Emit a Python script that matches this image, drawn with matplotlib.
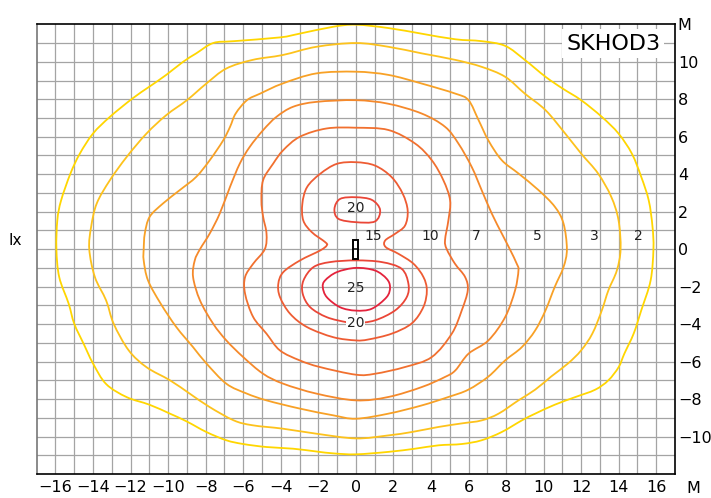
import numpy as np
import matplotlib
matplotlib.use("Agg")
import matplotlib.pyplot as plt
from matplotlib.path import Path
from matplotlib.patches import PathPatch, Rectangle

# isolux lines (metres), each closed curve listed
# anticlockwise starting from the top point on the x=0 axis
lvl2_x = [0, -1.2, -3, -4.05, -6.5, -7.6, -8.5, -9.2, -10.1, -11.0, -11.9, -13.1, -14.0, -14.7, -15.2, -15.7, -15.9, -15.95,
          -15.8, -15.3, -15.0, -14.5, -14.0, -13.3, -12.2, -11.0, -9.9, -9.0, -7.96, -6.9, -6.0, -4.76, -3.34, -2.1, -1.2, 0,
          1.73, 3.15, 4.4, 5.64, 6.7, 7.77, 8.84, 9.55, 10.6, 11.7, 12.75, 13.45, 14.0, 14.3, 14.8, 15.2, 15.7, 15.85,
          15.8, 15.6, 15.2, 14.7, 13.99, 13.1, 12.0, 11.0, 10.1, 9.0, 7.95, 6.7, 5.3, 3.5, 1.73]
lvl2_y = [11.98, 11.87, 11.5, 11.3, 11.1, 11.0, 10.45, 10.0, 9.3, 8.67, 8.04, 7.06, 6.17, 5.1, 4.04, 2.6, 1.55, 0,
          -1.49, -2.9, -3.98, -5.05, -6.1, -7.2, -7.9, -8.3, -8.78, -9.2, -9.76, -10.2, -10.4, -10.56, -10.65, -10.8, -10.9, -10.95,
          -10.82, -10.65, -10.47, -10.4, -10.2, -9.76, -9.14, -8.78, -8.3, -7.89, -7.5, -7.0, -6.29, -5.58, -4.5, -3.27, -1.67, 0,
          1.2, 2.6, 3.86, 5.1, 6.17, 7.06, 7.95, 8.58, 9.2, 10.1, 10.85, 11.1, 11.2, 11.5, 11.8]

lvl3_x = [0, -2.1, -3.9, -5.5, -6.9, -7.96, -9.0, -10.1, -11.15, -12.2, -13.1, -13.8, -14.1, -14.2,
          -13.9, -13.3, -12.9, -12.1, -11.15, -9.9, -8.85, -7.8, -6.5, -5.5, -3.9, -2.1, 0,
          1.73, 2.98, 4.4, 5.64, 6.7, 7.6, 8.66, 9.55, 10.4, 11.3, 12.0, 12.6, 13.1, 13.45, 13.9, 14.1,
          13.99, 13.6, 12.9, 12.0, 11.15, 10.1, 9.0, 7.95, 6.7, 5.3, 3.5, 1.73]
lvl3_y = [11.0, 10.8, 10.36, 10.1, 9.64, 8.84, 7.95, 7.15, 6.17, 4.93, 3.68, 2.44, 1.19, 0,
          -1.49, -2.74, -3.98, -5.4, -6.3, -7.0, -7.71, -8.42, -9.14, -9.4, -9.58, -9.85, -10.1,
          -9.94, -9.76, -9.49, -9.3, -9.14, -8.78, -8.07, -7.5, -6.8, -6.1, -5.4, -4.5, -3.27, -2.2, -1.14, 0,
          1.55, 2.8, 4.04, 5.1, 6.17, 7.42, 8.3, 9.2, 9.73, 10.1, 10.45, 10.8]

lvl5_x = [0, -2.1, -3.9, -5.1, -5.8, -6.4, -6.7, -7.07, -7.78, -8.5, -9.38, -10.27, -10.98, -11.24, -11.3,
          -11.3, -11.07, -10.4, -9.56, -8.67, -7.96, -6.9, -5.83, -4.76, -2.98, -1.2, 0,
          1.73, 3.51, 4.93, 5.99, 7.06, 7.95, 8.84, 9.55, 10.1, 10.6, 11.06, 11.24,
          11.06, 10.6, 9.73, 8.66, 7.77, 7.06, 6.53, 6.0, 5.3, 3.5, 1.73]
lvl5_y = [9.47, 9.38, 8.84, 8.3, 7.95, 7.24, 6.53, 5.8, 4.75, 3.86, 3.15, 2.44, 1.73, 0.84, 0,
          -0.6, -1.67, -2.9, -4.16, -5.23, -6.1, -7.18, -7.7, -8.07, -8.51, -8.87, -9.05,
          -8.78, -8.34, -7.89, -7.5, -6.8, -5.94, -5.23, -4.34, -3.27, -2.0, -0.96, 0,
          1.37, 2.26, 3.15, 4.04, 4.75, 5.8, 6.9, 7.95, 8.3, 8.84, 9.3]

lvl7_x = [0, -2.1, -3.34, -4.23, -4.94, -5.65, -6.18, -6.7, -7.25, -7.78, -8.3,
          -8.58, -8.67, -8.3, -7.6, -6.9, -6.0, -4.94, -3.87, -2.1, 0,
          1.73, 3.51, 4.75, 5.3, 6.0, 7.06, 7.95, 8.48, 8.66, 8.57, 8.2,
          7.77, 7.24, 6.7, 6.17, 5.46, 4.75, 3.5, 1.73]
lvl7_y = [7.95, 7.86, 7.6, 7.06, 6.35, 5.46, 4.57, 3.33, 1.9, 0.84, 0,
          -0.6, -1.49, -2.74, -3.98, -4.87, -5.76, -6.65, -7.18, -7.71, -8.07,
          -7.89, -7.36, -6.82, -6.47, -5.58, -4.87, -3.63, -2.2, -1.14, -0.78, 0,
          0.84, 1.9, 3.15, 4.39, 5.64, 6.53, 7.24, 7.76]

lvl10_x = [0, -1.56, -2.98, -3.87, -4.4, -4.94, -5.03, -4.94, -4.76, -4.85,
           -5.47, -5.9, -5.9, -5.47, -4.76, -4.05, -2.98, -1.92, 0,
           1.02, 2.62, 4.04, 5.11, 5.64, 5.96, 5.82, 5.28, 4.84,
           4.75, 4.93, 5.02, 4.66, 4.04, 3.15, 1.73]
lvl10_y = [6.48, 6.44, 6.0, 5.28, 4.57, 3.68, 2.6, 1.73, 0.84, 0,
           -0.78, -1.49, -2.38, -3.62, -4.51, -5.4, -5.94, -6.29, -6.7,
           -6.65, -6.29, -5.76, -4.51, -3.27, -2.2, -1.49, -0.78, 0,
           0.48, 1.55, 2.6, 3.68, 4.75, 5.64, 6.36]

lvl15_x = [0, -1.02, -1.9, -2.6, -2.85, -2.8, -2.35, -1.64, -1.55, -1.9, -2.97, -3.86, -4.13, -4.04, -3.5, -2.6, -1.2, 0,
           0.67, 1.91, 2.98, 3.6, 3.78, 3.6, 3.07, 2.27, 1.59, 1.56, 2.09, 2.62, 2.76, 2.5, 1.91, 1.02]
lvl15_y = [4.64, 4.55, 4.02, 3.31, 2.42, 1.53, 0.91, 0.38, 0.2, -0.07, -0.6, -1.22, -1.85, -2.56, -3.45, -4.16, -4.7, -4.87,
           -4.82, -4.51, -3.96, -3.08, -2.2, -1.49, -0.78, -0.25, 0.11, 0.46, 0.82, 1.26, 2.06, 2.95, 3.84, 4.46]

lvl20a_x = [0, -0.84, -1.14, -0.93, 0, 1.02, 1.29, 0.85]
lvl20a_y = [2.77, 2.68, 2.15, 1.62, 1.44, 1.48, 2.1, 2.63]

lvl20b_x = [0, -1.37, -2.26, -2.79, -2.83, -2.43, -1.55, -0.49, 0, 1.02, 2.09, 2.71, 2.8, 2.44, 1.38]
lvl20b_y = [-0.6, -0.69, -0.96, -1.67, -2.38, -3.1, -3.63, -3.9, -3.95, -3.8, -3.27, -2.56, -1.85, -1.05, -0.69]

lvl25_x = [0, -1.02, -1.64, -1.76, -1.55, -0.84, 0, 0.85, 1.64, 1.82, 1.64, 1.02]
lvl25_y = [-1.0, -1.23, -1.67, -2.03, -2.56, -3.1, -3.28, -3.18, -2.56, -2.03, -1.58, -1.14]

curves = [
    (lvl2_x, lvl2_y, '#FFD600'),
    (lvl3_x, lvl3_y, '#FDC21C'),
    (lvl5_x, lvl5_y, '#F8A126'),
    (lvl7_x, lvl7_y, '#F5892B'),
    (lvl10_x, lvl10_y, '#F1702F'),
    (lvl15_x, lvl15_y, '#EE5C33'),
    (lvl20a_x, lvl20a_y, '#EA4637'),
    (lvl20b_x, lvl20b_y, '#EA4637'),
    (lvl25_x, lvl25_y, '#E4233C'),
]

# band labels along y~0.7 on the right
band_labels = ['15', '10', '7', '5', '3', '2']
band_label_x = [0.95, 3.95, 6.4, 9.67, 12.7, 15.04]

x_ticks = list(range(-16, 17, 2))
y_ticks = list(range(-10, 11, 2))


def smooth_closed(xs, ys):
    # closed Catmull-Rom through the read points, drawn as cubic bezier
    p = np.column_stack([xs, ys]).astype(float)
    n = len(p)
    verts = [p[0]]
    codes = [Path.MOVETO]
    for i in range(n):
        p0, p1, p2, p3 = p[i - 1], p[i], p[(i + 1) % n], p[(i + 2) % n]
        c1 = p1 + (p2 - p0) / 6.0
        c2 = p2 - (p3 - p1) / 6.0
        verts += [c1, c2, p2]
        codes += [Path.CURVE4] * 3
    return Path(verts, codes)


fig = plt.figure(figsize=(7.11, 4.98), dpi=100)
ax = fig.add_axes([0.0516, 0.0482, 0.8978, 0.903])
ax.set_xlim(-17, 17)
ax.set_ylim(-12, 12)

# 1 m grid
for v in range(-16, 17):
    ax.axvline(v, color='#a4a4a4', lw=0.9, zorder=0)
for v in range(-11, 12):
    ax.axhline(v, color='#a4a4a4', lw=0.9, zorder=0)

for xs, ys, col in curves:
    ax.add_patch(PathPatch(smooth_closed(xs, ys), fill=False, edgecolor=col, lw=1.3, zorder=2))

# luminaire symbol
ax.add_patch(Rectangle((-0.14, -0.5), 0.28, 1.0, fill=True, facecolor='white',
                       edgecolor='black', lw=1.4, zorder=4))
ax.plot([-0.14, 0.14], [0, 0], color='black', lw=1.1, zorder=5)

lab_font = dict(fontsize=10, color='#222222', ha='center', va='center', zorder=6)
ax.text(0, 2.2, '20', **lab_font)
ax.text(0, -2.05, '25', **lab_font)
ax.text(0, -3.93, '20', bbox=dict(facecolor='white', edgecolor='none', pad=0.5), **lab_font)
for lab, xv in zip(band_labels, band_label_x):
    ax.text(xv, 0.72, lab, **lab_font)

ax.text(13.7, 10.97, 'SKHOD3', fontsize=16, ha='center', va='center', color='black', zorder=6,
        bbox=dict(facecolor='white', edgecolor='none', pad=3))

ax.set_xticks(x_ticks)
ax.set_yticks(y_ticks + [12])
ax.set_yticklabels([str(v).replace('-', '\u2212') for v in y_ticks] + ['M'])
ax.yaxis.tick_right()
ax.tick_params(axis='x', length=0, pad=4, labelsize=11.5)
ax.tick_params(axis='y', length=0, pad=2, labelsize=11.5)
ax.text(18.0, -0.032, 'M', transform=ax.get_xaxis_transform(), fontsize=11.5, ha='center', va='center')
fig.text(0.021, 0.518, 'Ix', fontsize=11, ha='center', va='center')

for side in ['top', 'bottom', 'right']:
    ax.spines[side].set_color('black')
    ax.spines[side].set_linewidth(1.2)
ax.spines['left'].set_color('#777777')
ax.spines['left'].set_linewidth(1.2)

fig.savefig('out.png', dpi=100)
